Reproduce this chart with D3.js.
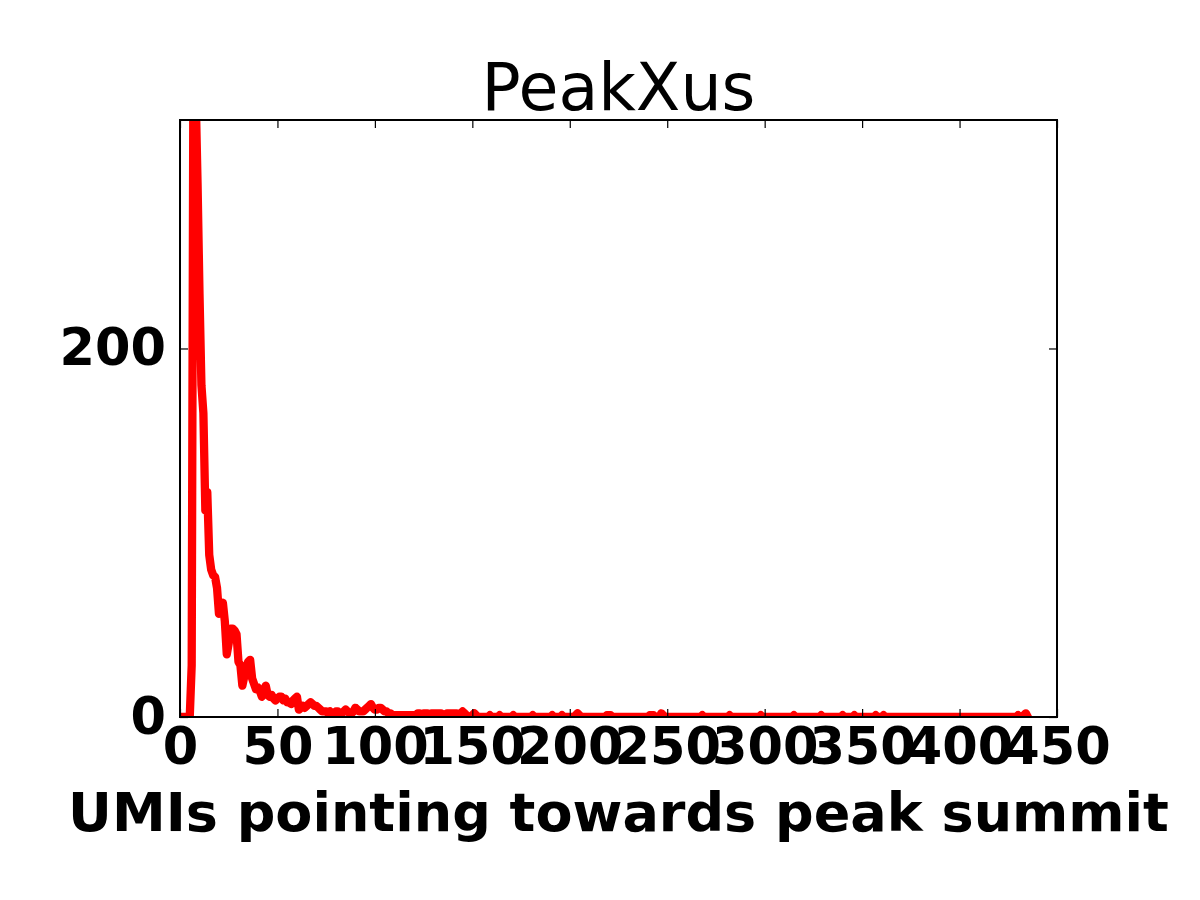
<!DOCTYPE html>
<html>
<head>
<meta charset="utf-8">
<script src="https://cdn.jsdelivr.net/npm/d3@7"></script>
<style>
  body { margin: 0; background: #fff; }
  svg { display: block; }
</style>
</head>
<body>
<svg id="chart"></svg>
<script>
// Labels
const title = 'PeakXus';
const xLabel = 'UMIs pointing towards peak summit';

// Axis ticks
const xTicks = [0, 50, 100, 150, 200, 250, 300, 350, 400, 450];
const yTicks = [0, 200];
const xDomain = [0, 450];
const yDomain = [0, 324];

// Number of peaks for each UMI count (index = UMI count)
const counts = [
  0, 0, 0, 0, 0, 0, 28, 400, 340, 290,        // 0-9
  230, 180, 165, 112, 122, 88, 80, 77, 76, 70, // 10-19
  56, 58, 62, 52, 34, 40, 48, 48, 47, 45,      // 20-29
  30, 28, 17, 22, 27, 30, 31, 21, 18, 15,      // 30-39
  16, 14, 11, 14, 17, 12, 11, 12, 10, 9,       // 40-49
  10, 11, 11, 9, 10, 8, 8, 7, 9, 10,           // 50-59
  11, 4, 5, 6, 5, 6, 7, 8, 7, 6,               // 60-69
  6, 5, 4, 3, 3, 3, 2, 3, 2, 2,                // 70-79
  3, 3, 2, 2, 3, 4, 3, 2, 2, 3,                // 80-89
  5, 4, 3, 3, 3, 4, 5, 6, 7, 5,                // 90-99
  4, 4, 5, 5, 4, 3, 3, 2, 2, 1,                // 100-109
  1, 1, 1, 1, 1, 1, 1, 1, 1, 1,                // 110-119
  1, 1, 2, 2, 1, 2, 2, 2, 1, 2,                // 120-129
  2, 2, 2, 2, 2, 1, 1, 2, 2, 2,                // 130-139
  2, 2, 2, 1, 2, 3, 2, 1, 0, 0,                // 140-149
  1, 2, 1, 0, 0, 0, 0, 0, 0, 1,                // 150-159
  0, 0, 0, 0, 1, 0, 0, 0, 0, 0,                // 160-169
  0, 1, 0, 0, 0, 0, 0, 0, 0, 0,                // 170-179
  0, 1, 0, 0, 0, 0, 0, 0, 0, 0,                // 180-189
  0, 1, 0, 0, 0, 0, 1, 0, 0, 0,                // 190-199
  0, 0, 0, 1, 2, 1, 0, 0, 0, 0,                // 200-209
  0, 0, 0, 0, 0, 0, 0, 0, 0, 1,                // 210-219
  1, 1, 0, 0, 0, 0, 0, 0, 0, 0,                // 220-229
  0, 0, 0, 0, 0, 0, 0, 0, 0, 0,                // 230-239
  0, 1, 1, 1, 0, 0, 0, 2, 1, 0,                // 240-249
  0, 0, 0, 0, 0, 0, 0, 0, 0, 0,                // 250-259
  0, 0, 0, 0, 0, 0, 0, 0, 1, 0,                // 260-269
  0, 0, 0, 0, 0, 0, 0, 0, 0, 0,                // 270-279
  0, 0, 1, 0, 0, 0, 0, 0, 0, 0,                // 280-289
  0, 0, 0, 0, 0, 0, 0, 0, 1, 0,                // 290-299
  0, 0, 0, 0, 0, 0, 0, 0, 0, 0,                // 300-309
  0, 0, 0, 0, 0, 1, 0, 0, 0, 0,                // 310-319
  0, 0, 0, 0, 0, 0, 0, 0, 0, 1,                // 320-329
  0, 0, 0, 0, 0, 0, 0, 0, 0, 0,                // 330-339
  1, 0, 0, 0, 0, 0, 1, 0, 0, 0,                // 340-349
  0, 0, 0, 0, 0, 0, 0, 1, 0, 0,                // 350-359
  0, 1, 0, 0, 0, 0, 0, 0, 0, 0,                // 360-369
  0, 0, 0, 0, 0, 0, 0, 0, 0, 0,                // 370-379
  0, 0, 0, 0, 0, 0, 0, 0, 0, 0,                // 380-389
  0, 0, 0, 0, 0, 0, 0, 0, 0, 0,                // 390-399
  0, 0, 0, 0, 0, 0, 0, 0, 0, 0,                // 400-409
  0, 0, 0, 0, 0, 0, 0, 0, 0, 0,                // 410-419
  0, 0, 0, 0, 0, 0, 0, 0, 0, 0,                // 420-429
  1, 0, 0, 1, 2, 0                             // 430-435
];

// Dimensions
const width = 1200, height = 900;
const margin = { top: 120, right: 143, bottom: 183, left: 180 };
const plot = {
  left: margin.left,
  top: margin.top,
  right: width - margin.right,
  bottom: height - margin.bottom
};
const font = '"DejaVu Sans", sans-serif';

const svg = d3.select('#chart')
  .attr('width', width)
  .attr('height', height)
  .attr('viewBox', `0 0 ${width} ${height}`);

svg.append('rect').attr('width', width).attr('height', height).attr('fill', '#fff');

const xScale = d3.scaleLinear().domain(xDomain).range([plot.left, plot.right]);
const yScale = d3.scaleLinear().domain(yDomain).range([plot.bottom, plot.top]);

// clip the line to the axes box
svg.append('clipPath').attr('id', 'clip')
  .append('rect')
  .attr('x', plot.left).attr('y', plot.top)
  .attr('width', plot.right - plot.left)
  .attr('height', plot.bottom - plot.top);

const line = d3.line()
  .x((d, i) => xScale(i))
  .y(d => yScale(d));

svg.append('path')
  .datum(counts)
  .attr('clip-path', 'url(#clip)')
  .attr('fill', 'none')
  .attr('stroke', '#ff0000')
  .attr('stroke-width', 8.3)
  .attr('stroke-linejoin', 'round')
  .attr('stroke-linecap', 'square')
  .attr('d', line);

// Axes (ticks point inward, on all four sides)
const tickLen = 8;

const xBottom = svg.append('g')
  .attr('transform', `translate(0, ${plot.bottom})`)
  .call(d3.axisBottom(xScale).tickValues(xTicks).tickFormat(d3.format('d'))
    .tickSizeInner(-tickLen).tickSizeOuter(0).tickPadding(11));

const xTop = svg.append('g')
  .attr('transform', `translate(0, ${plot.top})`)
  .call(d3.axisTop(xScale).tickValues(xTicks).tickFormat('')
    .tickSizeInner(-tickLen).tickSizeOuter(0));

const yLeft = svg.append('g')
  .attr('transform', `translate(${plot.left}, 0)`)
  .call(d3.axisLeft(yScale).tickValues(yTicks).tickFormat(d3.format('d'))
    .tickSizeInner(-tickLen).tickSizeOuter(0).tickPadding(14));

const yRight = svg.append('g')
  .attr('transform', `translate(${plot.right}, 0)`)
  .call(d3.axisRight(yScale).tickValues(yTicks).tickFormat('')
    .tickSizeInner(-tickLen).tickSizeOuter(0));

[xBottom, xTop, yLeft, yRight].forEach(g => {
  g.select('.domain').remove();
  g.selectAll('.tick line').attr('stroke', '#000').attr('stroke-width', 1.2);
  g.selectAll('.tick text')
    .attr('fill', '#000')
    .style('font-family', font)
    .style('font-weight', 'bold')
    .style('font-size', '51px');
});

// Spines
svg.append('rect')
  .attr('x', plot.left).attr('y', plot.top)
  .attr('width', plot.right - plot.left)
  .attr('height', plot.bottom - plot.top)
  .attr('fill', 'none')
  .attr('stroke', '#000')
  .attr('stroke-width', 2);

// Title
svg.append('text')
  .attr('x', (plot.left + plot.right) / 2)
  .attr('y', 110)
  .attr('text-anchor', 'middle')
  .style('font-family', font)
  .style('font-size', '65px')
  .attr('fill', '#000')
  .text(title);

// X label
svg.append('text')
  .attr('x', (plot.left + plot.right) / 2)
  .attr('y', 831)
  .attr('text-anchor', 'middle')
  .style('font-family', font)
  .style('font-weight', 'bold')
  .style('font-size', '54px')
  .attr('fill', '#000')
  .text(xLabel);
</script>
</body>
</html>
